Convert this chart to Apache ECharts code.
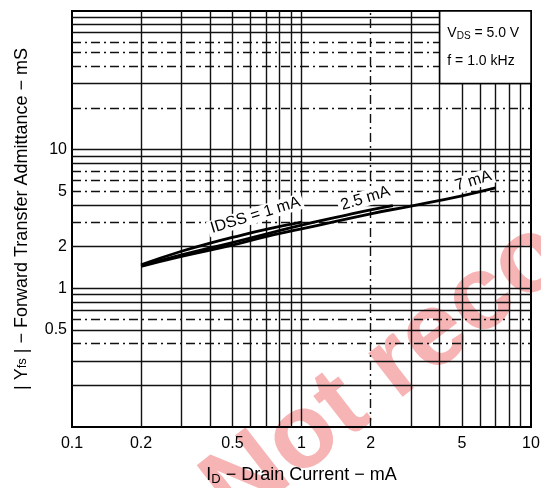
<!DOCTYPE html>
<html>
<head>
<meta charset="utf-8">
<script src="https://cdn.jsdelivr.net/npm/echarts@6/dist/echarts.min.js"></script>
<style>html,body{margin:0;padding:0;background:#fff}#c{width:541px;height:488px}</style>
</head>
<body>
<div id="c"></div>
<script>
// ---- data ----
var xTickLabels = [0.1, 0.2, 0.5, 1, 2, 5, 10];
var yTickLabels = [0.5, 1, 2, 5, 10];
var xGridSolid = [0.2,0.3,0.4,0.5,0.6,0.7,0.8,0.9,1,3,4,5,6,7,8,9];
var xGridDashed = [2];
var yGridSolid = [0.2,0.3,0.5,0.7,0.8,0.9,1,2,4,8,9,10,30,70,80,90];
var yGridDashed = [0.4,0.6,3,5,6,7,20,40,50,60];
var curve1mA  = [[0.2,1.48],[0.3,1.85],[0.4,2.12],[0.5,2.33],[0.7,2.66],[1.0,3.0]];
var curve25mA = [[0.2,1.45],[0.3,1.74],[0.5,2.14],[0.7,2.46],[1.0,2.86],[1.5,3.32],[2.0,3.68],[2.5,3.95]];
var curve7mA  = [[0.2,1.44],[0.3,1.7],[0.5,2.05],[0.7,2.36],[1.0,2.68],[2.0,3.45],[3.0,3.92],[5.0,4.65],[7.0,5.3]];
var curveLabelNames  = ['IDSS = 1 mA', '2.5 mA', '7 mA'];
var curveLabelCoords = [[0.63,3.37], [1.9,4.45], [5.6,5.95]];
var infoBox = [[4,30],[10,100]];

var chart = echarts.init(document.getElementById('c'));
var FONT = 'Liberation Sans, Arial, sans-serif';

function gridLines(xs, ys){
  return xs.map(function(v){return {xAxis:v};}).concat(ys.map(function(v){return {yAxis:v};}));
}
function curve(name, data, idx){
  return {name:name, type:'line', data:data, symbol:'none', smooth:true, z:4,
    lineStyle:{color:'#000', width:2.8}, animation:false,
    markPoint:{symbol:'circle', symbolSize:1, itemStyle:{color:'rgba(0,0,0,0)'}, silent:true, animation:false, z:8,
      label:{show:true, position:'inside', rotate:17, fontFamily:FONT, fontSize:16, color:'#000',
        backgroundColor:'#fff', padding:[0,3],
        formatter:function(p){return p.name;}},
      data:[{name:curveLabelNames[idx], coord:curveLabelCoords[idx]}]}};
}

var option = {
  animation:false,
  backgroundColor:'#fff',
  grid:{left:72, right:10, top:11, bottom:61, show:true, borderColor:'#000', borderWidth:2,
        outerBoundsMode:'none', containLabel:false},
  graphic:[
    {type:'text', x:250, y:545, rotation:0.66, z:-5, silent:true,
     style:{text:'Not recommended', font:'bold 105px Liberation Sans, Arial', fill:'#f7b4b4', textVerticalAlign:'bottom'}}
  ],
  xAxis:{type:'log', logBase:10, min:0.1, max:10,
    name:'{i|I}{s|D}{t| − Drain Current − mA}', nameLocation:'middle', nameGap:38,
    nameTextStyle:{rich:{
      i:{fontFamily:FONT, fontSize:18, color:'#000'},
      s:{fontFamily:FONT, fontSize:13, color:'#000', padding:[8,0,0,0]},
      t:{fontFamily:FONT, fontSize:18, color:'#000'}}},
    axisLine:{lineStyle:{color:'#000', width:2}},
    axisTick:{show:false},
    splitLine:{show:false},
    axisLabel:{customValues:xTickLabels, fontFamily:FONT, fontSize:16, color:'#000', margin:9,
      formatter:function(v){return String(+v.toPrecision(3));}}
  },
  yAxis:{type:'log', logBase:10, min:0.1, max:100,
    name:'{t|| Y}{s|fs}{t| | − Forward Transfer Admittance − mS}', nameLocation:'middle', nameGap:41, nameRotate:90,
    nameTextStyle:{rich:{
      t:{fontFamily:FONT, fontSize:18, color:'#000'},
      s:{fontFamily:FONT, fontSize:13, color:'#000'}}},
    axisLine:{lineStyle:{color:'#000', width:2}},
    axisTick:{show:false},
    splitLine:{show:false},
    axisLabel:{customValues:yTickLabels, fontFamily:FONT, fontSize:16, color:'#000', margin:5,
      formatter:function(v){return String(+v.toPrecision(3));}}
  },
  series:[
    {type:'line', data:[], silent:true,
      markLine:{silent:true, symbol:'none', label:{show:false}, animation:false, z:1,
        lineStyle:{color:'#111', width:1.4, type:'solid'},
        data:gridLines(xGridSolid, yGridSolid)}},
    {type:'line', data:[], silent:true,
      markLine:{silent:true, symbol:'none', label:{show:false}, animation:false, z:1,
        lineStyle:{color:'#111', width:1.4, type:[9,4,2,4]},
        data:gridLines(xGridDashed, yGridDashed)}},
    curve('1 mA', curve1mA, 0),
    curve('2.5 mA', curve25mA, 1),
    curve('7 mA', curve7mA, 2),
    {type:'line', data:[], silent:true,
      markArea:{silent:true, animation:false, z:10,
        itemStyle:{color:'#fff', borderColor:'#000', borderWidth:1.5},
        label:{show:true, position:'inside', align:'left', offset:[-38,0],
          formatter:'{v|V}{s|DS}{v| = 5.0 V}\n{v|f = 1.0 kHz}',
          rich:{v:{fontFamily:FONT, fontSize:14, color:'#000', lineHeight:28},
                s:{fontFamily:FONT, fontSize:10, color:'#000', padding:[6,0,0,0], lineHeight:28}}},
        data:[[{xAxis:infoBox[0][0], yAxis:infoBox[0][1]},{xAxis:infoBox[1][0], yAxis:infoBox[1][1]}]]}}
  ]
};
chart.setOption(option);
</script>
</body>
</html>
